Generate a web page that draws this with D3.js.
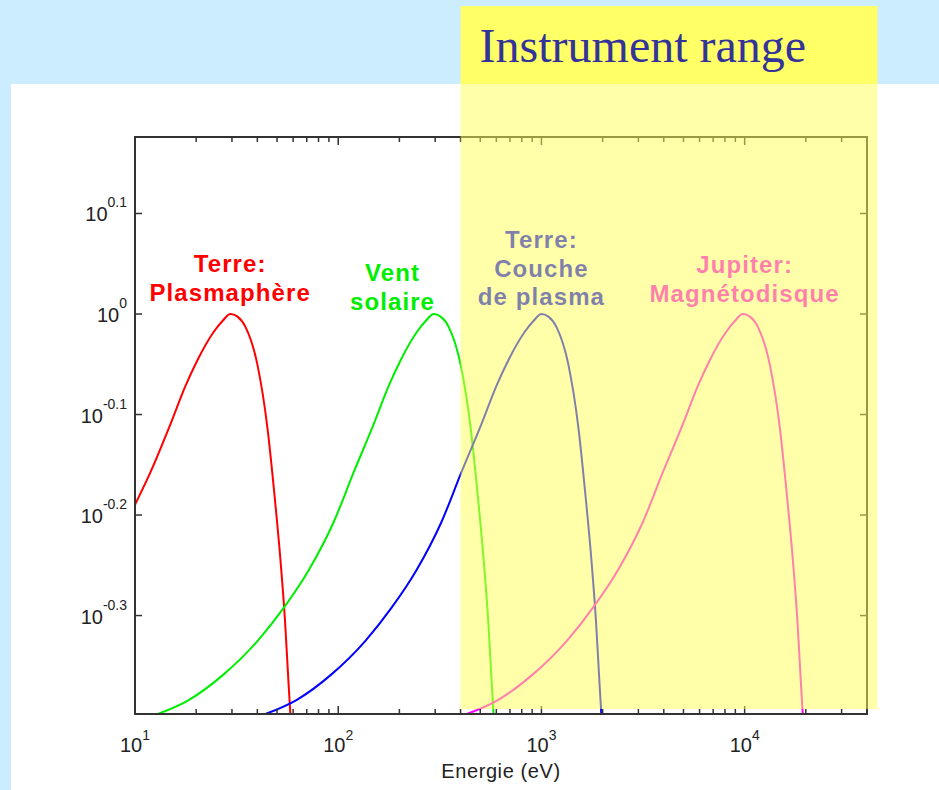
<!DOCTYPE html>
<html lang="fr">
<head>
<meta charset="UTF-8">
<title>Instrument range</title>
<style>
  body { margin: 0; background: #ccecff; overflow: hidden; }
  svg { display: block; }
  .tick-label { font-family: "Liberation Sans", Arial, sans-serif; fill: #222; }
  .curve-label { font-family: "Liberation Sans", Arial, sans-serif; font-weight: bold; font-size: 24px; letter-spacing: 1.1px; text-anchor: middle; }
</style>
</head>
<body>
<script src="https://cdn.jsdelivr.net/npm/d3@7"></script>
<script>
// Terre : plasmasphère (rouge)
const plasmasphereE = [10, 11.92, 14.95, 17.72, 20.31, 24.33, 26.94, 29.5, 31.93, 34.96, 40.05, 44.86, 48.56, 51.98, 54.7, 56.92, 58.23];
const plasmasphereF = [0.646, 0.696, 0.777, 0.848, 0.900, 0.959, 0.984, 1.0, 0.994, 0.971, 0.890, 0.770, 0.661, 0.569, 0.496, 0.430, 0.398];

// Vent solaire (vert)
const ventE = [12.94, 18.38, 27.32, 40.15, 53.9, 71.57, 95.02, 119.2, 149.5, 177.2, 203.1, 243.3, 269.4, 295, 319.3, 349.6, 400.5, 448.6, 485.6, 519.8, 547.0, 569.2, 582.3];
const ventF = [0.40, 0.413, 0.438, 0.473, 0.510, 0.556, 0.621, 0.696, 0.777, 0.848, 0.900, 0.959, 0.984, 1.0, 0.994, 0.971, 0.890, 0.770, 0.661, 0.569, 0.496, 0.430, 0.398];

// Terre : couche de plasma (bleu)
const coucheE = [43.85, 62.29, 92.62, 136.1, 182.7, 242.6, 322.1, 404.0, 506.7, 600.6, 688.4, 824.9, 913.3, 1000, 1082, 1185, 1358, 1521, 1646, 1762, 1854, 1930, 1974];
const coucheF = [0.40, 0.413, 0.438, 0.473, 0.510, 0.556, 0.621, 0.696, 0.777, 0.848, 0.900, 0.959, 0.984, 1.0, 0.994, 0.971, 0.890, 0.770, 0.661, 0.569, 0.496, 0.430, 0.398];

// Jupiter : magnétodisque (magenta)
const jupiterE = [429.7, 610.4, 907.7, 1334, 1790, 2377, 3157, 3959, 4966, 5886, 6746, 8084, 8950, 9800, 10609, 11614, 13305, 14904, 16133, 17268, 18173, 18910, 19343];
const jupiterF = [0.40, 0.413, 0.438, 0.473, 0.510, 0.556, 0.621, 0.696, 0.777, 0.848, 0.900, 0.959, 0.984, 1.0, 0.994, 0.971, 0.890, 0.770, 0.661, 0.569, 0.496, 0.430, 0.398];

// axes
const xDecades = [1, 2, 3, 4];
const yTickExps = [0.1, 0, -0.1, -0.2, -0.3];
const yTickLabels = ["0.1", "0", "-0.1", "-0.2", "-0.3"];
const instrumentRange = [400, 45000];

const width = 939, height = 790;
const svg = d3.select("body").append("svg")
  .attr("width", width)
  .attr("height", height);

const x = d3.scaleLog().domain([10, 40000]).range([135, 867]);
const y = d3.scaleLog().domain([0.4, 1.5]).range([714, 137]);

// fond blanc
svg.append("rect").attr("x", 11).attr("y", 84)
  .attr("width", width - 11).attr("height", height - 84)
  .attr("fill", "#fff");

// courbes
const series = [
  {E: plasmasphereE, F: plasmasphereF, color: "#ff0000", lines: ["Terre:", "Plasmaphère"], at: 29.4, top: 272},
  {E: ventE, F: ventF, color: "#00ee00", lines: ["Vent", "solaire"], at: 185, top: 281},
  {E: coucheE, F: coucheF, color: "#0000ff", lines: ["Terre:", "Couche", "de plasma"], at: 1000, top: 248},
  {E: jupiterE, F: jupiterF, color: "#ff00ff", lines: ["Jupiter:", "Magnétodisque"], at: 10000, top: 273}
];

svg.append("clipPath").attr("id", "plot-clip")
  .append("rect").attr("x", 135).attr("y", 137).attr("width", 732).attr("height", 577);

const line = d3.line()
  .x(d => x(d[0]))
  .y(d => y(d[1]))
  .curve(d3.curveMonotoneX);

svg.append("g").attr("clip-path", "url(#plot-clip)")
  .selectAll("path")
  .data(series)
  .join("path")
  .attr("d", s => line(s.E.map((e, i) => [e, s.F[i]])))
  .attr("fill", "none")
  .attr("stroke", s => s.color)
  .attr("stroke-width", 2);

// étiquettes des courbes
series.forEach(s => {
  const t = svg.append("text").attr("class", "curve-label").attr("fill", s.color);
  s.lines.forEach((l, i) => {
    t.append("tspan").attr("x", x(s.at)).attr("y", s.top + i * 28.5).text(l);
  });
});

// cadre et graduations
const axes = svg.append("g").attr("stroke", "#333").attr("stroke-width", 1.5);
axes.append("rect")
  .attr("x", x.range()[0]).attr("y", y.range()[1])
  .attr("width", x.range()[1] - x.range()[0])
  .attr("height", y.range()[0] - y.range()[1])
  .attr("fill", "none")
  .attr("stroke-width", 2);

const xTicks = x.ticks(40).filter(v => v > 10 && v < 40000);
xTicks.forEach(v => {
  const major = Math.abs(Math.log10(v) - Math.round(Math.log10(v))) < 1e-9;
  const len = major ? 8 : 5;
  axes.append("line").attr("x1", x(v)).attr("x2", x(v))
    .attr("y1", y.range()[0]).attr("y2", y.range()[0] - len);
  axes.append("line").attr("x1", x(v)).attr("x2", x(v))
    .attr("y1", y.range()[1]).attr("y2", y.range()[1] + len);
});
yTickExps.forEach(e => {
  const yy = y(Math.pow(10, e));
  axes.append("line").attr("x1", x.range()[0]).attr("x2", x.range()[0] + 7)
    .attr("y1", yy).attr("y2", yy);
  axes.append("line").attr("x1", x.range()[1]).attr("x2", x.range()[1] - 7)
    .attr("y1", yy).attr("y2", yy);
});

// libellés x
xDecades.forEach(d => {
  const t = svg.append("text").attr("class", "tick-label")
    .attr("x", x(Math.pow(10, d))).attr("y", 752)
    .attr("text-anchor", "middle").attr("font-size", 20);
  t.append("tspan").text("10");
  t.append("tspan").attr("font-size", 14).attr("dy", -12).text(d);
});

// libellés y
yTickExps.forEach((e, i) => {
  const yy = y(Math.pow(10, e));
  const t = svg.append("text").attr("class", "tick-label")
    .attr("x", 127).attr("y", yy + 8)
    .attr("text-anchor", "end").attr("font-size", 20);
  t.append("tspan").text("10");
  t.append("tspan").attr("font-size", 14).attr("dy", -14).text(yTickLabels[i]);
});

svg.append("text").attr("class", "tick-label")
  .attr("x", (x.range()[0] + x.range()[1]) / 2).attr("y", 778)
  .attr("text-anchor", "middle").attr("font-size", 20)
  .attr("letter-spacing", 0.6)
  .text("Energie (eV)");

// zone de l'instrument
const x0 = x(instrumentRange[0]), x1 = x(instrumentRange[1]);
svg.append("rect")
  .attr("x", x0).attr("y", 84)
  .attr("width", x1 - x0).attr("height", y.range()[0] - 5 - 84)
  .attr("fill", "#ffff55").attr("fill-opacity", 0.5);

svg.append("rect")
  .attr("x", x0).attr("y", 6)
  .attr("width", x1 - x0).attr("height", 78)
  .attr("fill", "#ffff66");

svg.append("text")
  .attr("x", x0 + 19).attr("y", 62)
  .attr("font-family", "'Liberation Serif', 'Times New Roman', serif")
  .attr("font-size", 48)
  .attr("fill", "#333399")
  .text("Instrument range");
</script>
</body>
</html>
